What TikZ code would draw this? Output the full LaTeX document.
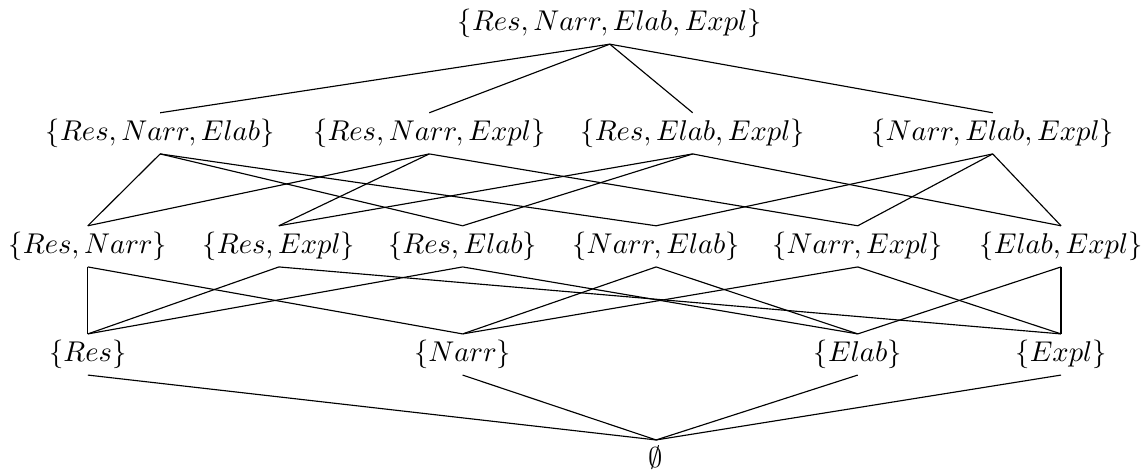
\documentclass[tikz,border=0pt]{standalone}
\usepackage{amsmath}
\usepackage{tikz}
\tikzset{
  setnode/.style={inner sep=2pt, font=\normalsize},
  link/.style={line width=0.4pt, color=black}
}
\begin{document}
\begin{tikzpicture}
  \useasboundingbox (0,0) rectangle (14.12,5.79);

  % Full set
  \node[setnode] (all) at (7.50,5.50) {$\{Res, Narr, Elab, Expl\}$};

  % Three-element subsets
  \node[setnode] (rne) at (1.97,4.15) {$\{Res, Narr, Elab\}$};
  \node[setnode] (rnx) at (5.28,4.15) {$\{Res, Narr, Expl\}$};
  \node[setnode] (rex) at (8.52,4.15) {$\{Res, Elab, Expl\}$};
  \node[setnode] (nex) at (12.21,4.15) {$\{Narr, Elab, Expl\}$};

  % Two-element subsets
  \node[setnode] (rn) at (1.08,2.76) {$\{Res, Narr\}$};
  \node[setnode] (rx) at (3.43,2.76) {$\{Res, Expl\}$};
  \node[setnode] (re) at (5.69,2.76) {$\{Res, Elab\}$};
  \node[setnode] (ne) at (8.07,2.76) {$\{Narr, Elab\}$};
  \node[setnode] (nx) at (10.55,2.76) {$\{Narr, Expl\}$};
  \node[setnode] (ex) at (13.05,2.76) {$\{Elab, Expl\}$};

  % Singletons
  \node[setnode] (r) at (1.08,1.43) {$\{Res\}$};
  \node[setnode] (n) at (5.69,1.43) {$\{Narr\}$};
  \node[setnode] (e) at (10.55,1.43) {$\{Elab\}$};
  \node[setnode] (x) at (13.05,1.43) {$\{Expl\}$};

  % Empty set
  \node[setnode] (empty) at (8.07,0.16) {$\emptyset$};

  % Edges, top level down
  \draw[link] (all.south) -- (rne.north);
  \draw[link] (all.south) -- (rnx.north);
  \draw[link] (all.south) -- (rex.north);
  \draw[link] (all.south) -- (nex.north);

  \draw[link] (rne.south) -- (rn.north);
  \draw[link] (rne.south) -- (re.north);
  \draw[link] (rne.south) -- (ne.north);
  \draw[link] (rnx.south) -- (rn.north);
  \draw[link] (rnx.south) -- (rx.north);
  \draw[link] (rnx.south) -- (nx.north);
  \draw[link] (rex.south) -- (rx.north);
  \draw[link] (rex.south) -- (re.north);
  \draw[link] (rex.south) -- (ex.north);
  \draw[link] (nex.south) -- (ne.north);
  \draw[link] (nex.south) -- (nx.north);
  \draw[link] (nex.south) -- (ex.north);

  \draw[link] (rn.south) -- (r.north);
  \draw[link] (rn.south) -- (n.north);
  \draw[link] (rx.south) -- (r.north);
  \draw[link] (rx.south) -- (x.north);
  \draw[link] (re.south) -- (r.north);
  \draw[link] (re.south) -- (e.north);
  \draw[link] (ne.south) -- (n.north);
  \draw[link] (ne.south) -- (e.north);
  \draw[link] (nx.south) -- (n.north);
  \draw[link] (nx.south) -- (x.north);
  \draw[link] (ex.south) -- (e.north);
  \draw[link] (ex.south) -- (x.north);

  \draw[link] (r.south) -- (empty.north);
  \draw[link] (n.south) -- (empty.north);
  \draw[link] (e.south) -- (empty.north);
  \draw[link] (x.south) -- (empty.north);
\end{tikzpicture}
\end{document}
